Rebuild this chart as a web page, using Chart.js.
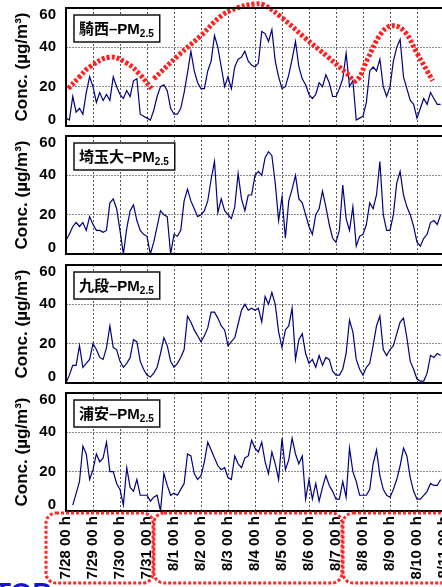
<!DOCTYPE html>
<html>
<head>
<meta charset="utf-8">
<script src="https://cdn.jsdelivr.net/npm/chart.js@4"></script>
<style>
  html, body { margin: 0; padding: 0; background: #fff; }
  #wrap { position: relative; width: 442px; height: 587px; overflow: hidden; }
  canvas { position: absolute; left: 0; }
  #frag { position: absolute; left: -6px; top: 577px; line-height: 28px;
          font: bold 28px "Liberation Sans", Arial, sans-serif; color: #1414d2; }
</style>
</head>
<body>
<div id="wrap">
  <canvas id="c0" width="470" height="129" style="top:0px"></canvas>
  <canvas id="c1" width="470" height="129" style="top:128px"></canvas>
  <canvas id="c2" width="470" height="129" style="top:257px"></canvas>
  <canvas id="c3" width="470" height="202" style="top:385px"></canvas>
  <div id="frag">TOP</div>
</div>
<script>
// axis labels
const tickLabels = ['7/28 00 h', '7/29 00 h', '7/30 00 h', '7/31 00 h', '8/1 00 h', '8/2 00 h', '8/3 00 h',
  '8/4 00 h', '8/5 00 h', '8/6 00 h', '8/7 00 h', '8/8 00 h', '8/9 00 h', '8/10 00 h', '8/11 00 h'];
const labelGroups = [[0, 3], [4, 10], [11, 14]];   // dashed boxes round the date labels
const yTicks = [0, 20, 40, 60];
const stations = ['騎西', '埼玉大', '九段', '浦安'];

// PM2.5 in µg/m3, every 3 h, one row per day starting 7/28 00 h
const STEP_H = 3;
const kisai = [
  [4, 3, 15, 7, 9, 6, 17, 25],
  [20, 12, 17, 13, 16, 13, 25, 20],
  [16, 14, 18, 15, 23, 24, 6, 5],
  [4, 3, 8, 15, 20, 21, 18, 9],
  [6, 6, 9, 17, 27, 38, 28, 22],
  [19, 19, 28, 33, 46, 40, 30, 20],
  [25, 19, 30, 34, 35, 38, 33, 31],
  [30, 32, 48, 47, 43, 49, 33, 25],
  [19, 20, 26, 34, 43, 30, 24, 21],
  [16, 14, 16, 22, 20, 26, 22, 15],
  [15, 19, 24, 37, 20, 23, 3, 4],
  [5, 12, 28, 30, 28, 34, 20, 15],
  [20, 33, 40, 44, 25, 19, 13, 11],
  [4, 9, 14, 11, 17, 14, 11, 11]
].flat();
const saitamaU = [
  [7, 10, 14, 16, 14, 16, 12, 19],
  [15, 12, 12, 11, 12, 26, 28, 23],
  [12, 0, 13, 22, 25, 17, 12, 10],
  [9, 0, 6, 14, 22, 20, 19, 0],
  [10, 9, 12, 27, 33, 27, 23, 19],
  [20, 22, 27, 38, 47, 21, 28, 22],
  [20, 18, 24, 41, 28, 22, 30, 30],
  [40, 42, 40, 49, 52, 50, 36, 17],
  [29, 8, 27, 33, 40, 28, 26, 20],
  [14, 10, 20, 23, 32, 24, 15, 8],
  [6, 12, 35, 18, 12, 24, 4, 9],
  [10, 15, 26, 23, 30, 47, 20, 12],
  [12, 20, 36, 42, 30, 24, 20, 14],
  [6, 4, 8, 10, 16, 17, 15, 20]
].flat();
const kudan = [
  [0, 4, 9, 9, 19, 8, 10, 12],
  [20, 17, 13, 12, 18, 29, 18, 17],
  [11, 8, 10, 13, 22, 21, 11, 7],
  [4, 3, 5, 8, 15, 23, 19, 11],
  [8, 10, 13, 17, 34, 31, 27, 24],
  [21, 24, 28, 36, 36, 33, 29, 27],
  [19, 21, 23, 30, 37, 40, 37, 38],
  [37, 38, 31, 44, 40, 46, 40, 26],
  [18, 27, 29, 38, 12, 22, 25, 15],
  [10, 12, 8, 14, 9, 13, 12, 6],
  [4, 4, 7, 15, 32, 26, 12, 7],
  [4, 8, 10, 19, 29, 34, 17, 14],
  [17, 19, 25, 31, 33, 23, 11, 7],
  [2, 1, 1, 5, 14, 13, 15, 14]
].flat();
const urayasu = [
  [null, null, 3, 9, 15, 33, 29, 16],
  [21, 29, 25, 27, 35, 20, 20, 14],
  [11, 3, 22, 12, 10, 16, 8, 8],
  [8, 5, 7, 8, 0, 19, 13, 8],
  [9, 8, 11, 14, 29, 28, 19, 16],
  [18, 25, 35, 31, 27, 23, 21, 22],
  [17, 16, 28, 24, 22, 27, 28, 36],
  [32, 30, 35, 25, 19, 30, 24, 16],
  [37, 21, 26, 37, 29, 24, 28, 6],
  [16, 6, 14, 5, 12, 18, 13, 10],
  [6, 6, 15, 7, 32, 20, 15, 8],
  [8, 8, 11, 24, 31, 18, 11, 8],
  [7, 11, 16, 23, 32, 28, 17, 10],
  [6, 6, 8, 10, 14, 13, 13, 16]
].flat();

// red dashed trend drawn over the 騎西 panel (null = break)
const waveHours = [2, 12, 21, 39, 54, 66, 76, 77, 78, 100, 120, 138, 152, 167, 176, 191, 212, 233, 250, 258, 268, 280, 290, 301, 312, 326];
const waveValues = [19, 25, 30, 35, 32, 26, 19, null, 24, 36, 46, 56, 60, 62, 61.5, 55.5, 45, 35, 26.5, 23, 34, 47, 51, 48, 37, 23];

const hours = kisai.map((_, i) => i * STEP_H);
const FONT = '"Liberation Sans", Arial, "Noto Sans CJK JP", sans-serif';

const panelDeco = {
    id: 'panelDeco',
    afterDatasetsDraw(chart, args, opts) {
        const { ctx, chartArea: a } = chart;
        ctx.save();
        // station name box
        const main = opts.name + '–PM';
        ctx.font = 'bold 15px ' + FONT;
        const w1 = ctx.measureText(main).width;
        ctx.font = 'bold 10px ' + FONT;
        const w2 = ctx.measureText('2.5').width;
        const bx = a.left + 8, by = a.top + 7, bw = w1 + w2 + 11, bh = 27;
        ctx.fillStyle = '#fff';
        ctx.fillRect(bx, by, bw, bh);
        ctx.strokeStyle = '#111';
        ctx.lineWidth = 1.5;
        ctx.strokeRect(bx, by, bw, bh);
        ctx.fillStyle = '#000';
        ctx.textBaseline = 'alphabetic';
        ctx.font = 'bold 15px ' + FONT;
        ctx.fillText(main, bx + 5, by + 19);
        ctx.font = 'bold 10px ' + FONT;
        ctx.fillText('2.5', bx + 5 + w1, by + 22);
        ctx.restore();
    },
    afterDraw(chart, args, opts) {
        const { ctx, chartArea: a, scales } = chart;
        ctx.save();
        // frame
        ctx.strokeStyle = '#000';
        ctx.lineWidth = 2;
        ctx.beginPath();
        ctx.moveTo(a.right + 2, a.top);
        ctx.lineTo(a.left, a.top);
        ctx.lineTo(a.left, a.bottom);
        ctx.lineTo(a.right + 2, a.bottom);
        ctx.stroke();
        // y tick labels, kept inside the frame
        ctx.font = 'bold 15px ' + FONT;
        ctx.fillStyle = '#000';
        ctx.textAlign = 'right';
        ctx.textBaseline = 'middle';
        yTicks.forEach(v => {
            const py = Math.min(Math.max(scales.y.getPixelForValue(v), a.top + 7), a.bottom - 6);
            ctx.fillText(String(v), a.left - 10, py);
        });
        // red dashed boxes round the date labels
        if (opts.groups) {
            ctx.strokeStyle = '#ff2626';
            ctx.lineWidth = 3;
            ctx.setLineDash([3, 2]);
            opts.groups.forEach(([i0, i1]) => {
                const l = scales.x.getPixelForValue(i0 * 24) - 20;
                const r = scales.x.getPixelForValue(i1 * 24) + 6;
                ctx.beginPath();
                ctx.roundRect(l, a.bottom + 2, r - l, chart.height - a.bottom - 6, 10);
                ctx.stroke();
            });
        }
        ctx.restore();
    }
};

function makePanel(canvasId, name, values, extra) {
    const datasets = [];
    if (extra.wave) {
        datasets.push({
            data: waveHours.map((h, i) => ({ x: h, y: waveValues[i] })),
            borderColor: '#ff1f1f',
            borderWidth: 5,
            borderDash: [3, 2],
            pointRadius: 0,
            tension: 0.4,
            clip: false
        });
    }
    datasets.push({
        data: values,
        borderColor: '#000080',
        borderWidth: 1.2,
        pointRadius: 0,
        tension: 0,
        spanGaps: false
    });

    return new Chart(document.getElementById(canvasId), {
        type: 'line',
        data: { labels: hours, datasets: datasets },
        options: {
            responsive: false,
            animation: false,
            devicePixelRatio: 1,
            layout: { padding: { top: 8, right: 26, left: 0, bottom: 0 } },
            plugins: {
                legend: { display: false },
                tooltip: { enabled: false },
                panelDeco: { name: name, groups: extra.groups }
            },
            scales: {
                x: {
                    type: 'linear',
                    min: 0,
                    max: 336,
                    grid: { color: '#555', drawTicks: false },
                    border: { display: false, dash: [2, 2] },
                    ticks: {
                        display: !!extra.showX,
                        stepSize: 24,
                        autoSkip: false,
                        minRotation: 90,
                        maxRotation: 90,
                        padding: 5,
                        color: '#000',
                        font: { family: FONT, size: 15, weight: 'bold' },
                        callback: v => tickLabels[v / 24]
                    },
                    afterFit: s => { s.height = extra.xHeight; }
                },
                y: {
                    min: 0,
                    max: 60,
                    ticks: { display: false, stepSize: 20 },
                    grid: { color: '#8c8c8c', drawTicks: false },
                    border: { display: false, dash: [2, 1] },
                    title: {
                        display: true,
                        text: 'Conc. (µg/m³)',
                        color: '#000',
                        font: { family: FONT, size: 17, weight: 'bold' },
                        padding: { top: 12, bottom: 0 }
                    },
                    afterFit: s => { s.width = 66; }
                }
            }
        },
        plugins: [panelDeco]
    });
}

makePanel('c0', stations[0], kisai, { wave: true, xHeight: 3 });
makePanel('c1', stations[1], saitamaU, { xHeight: 3 });
makePanel('c2', stations[2], kudan, { xHeight: 3 });
makePanel('c3', stations[3], urayasu, { xHeight: 76, showX: true, groups: labelGroups });
</script>
</body>
</html>
